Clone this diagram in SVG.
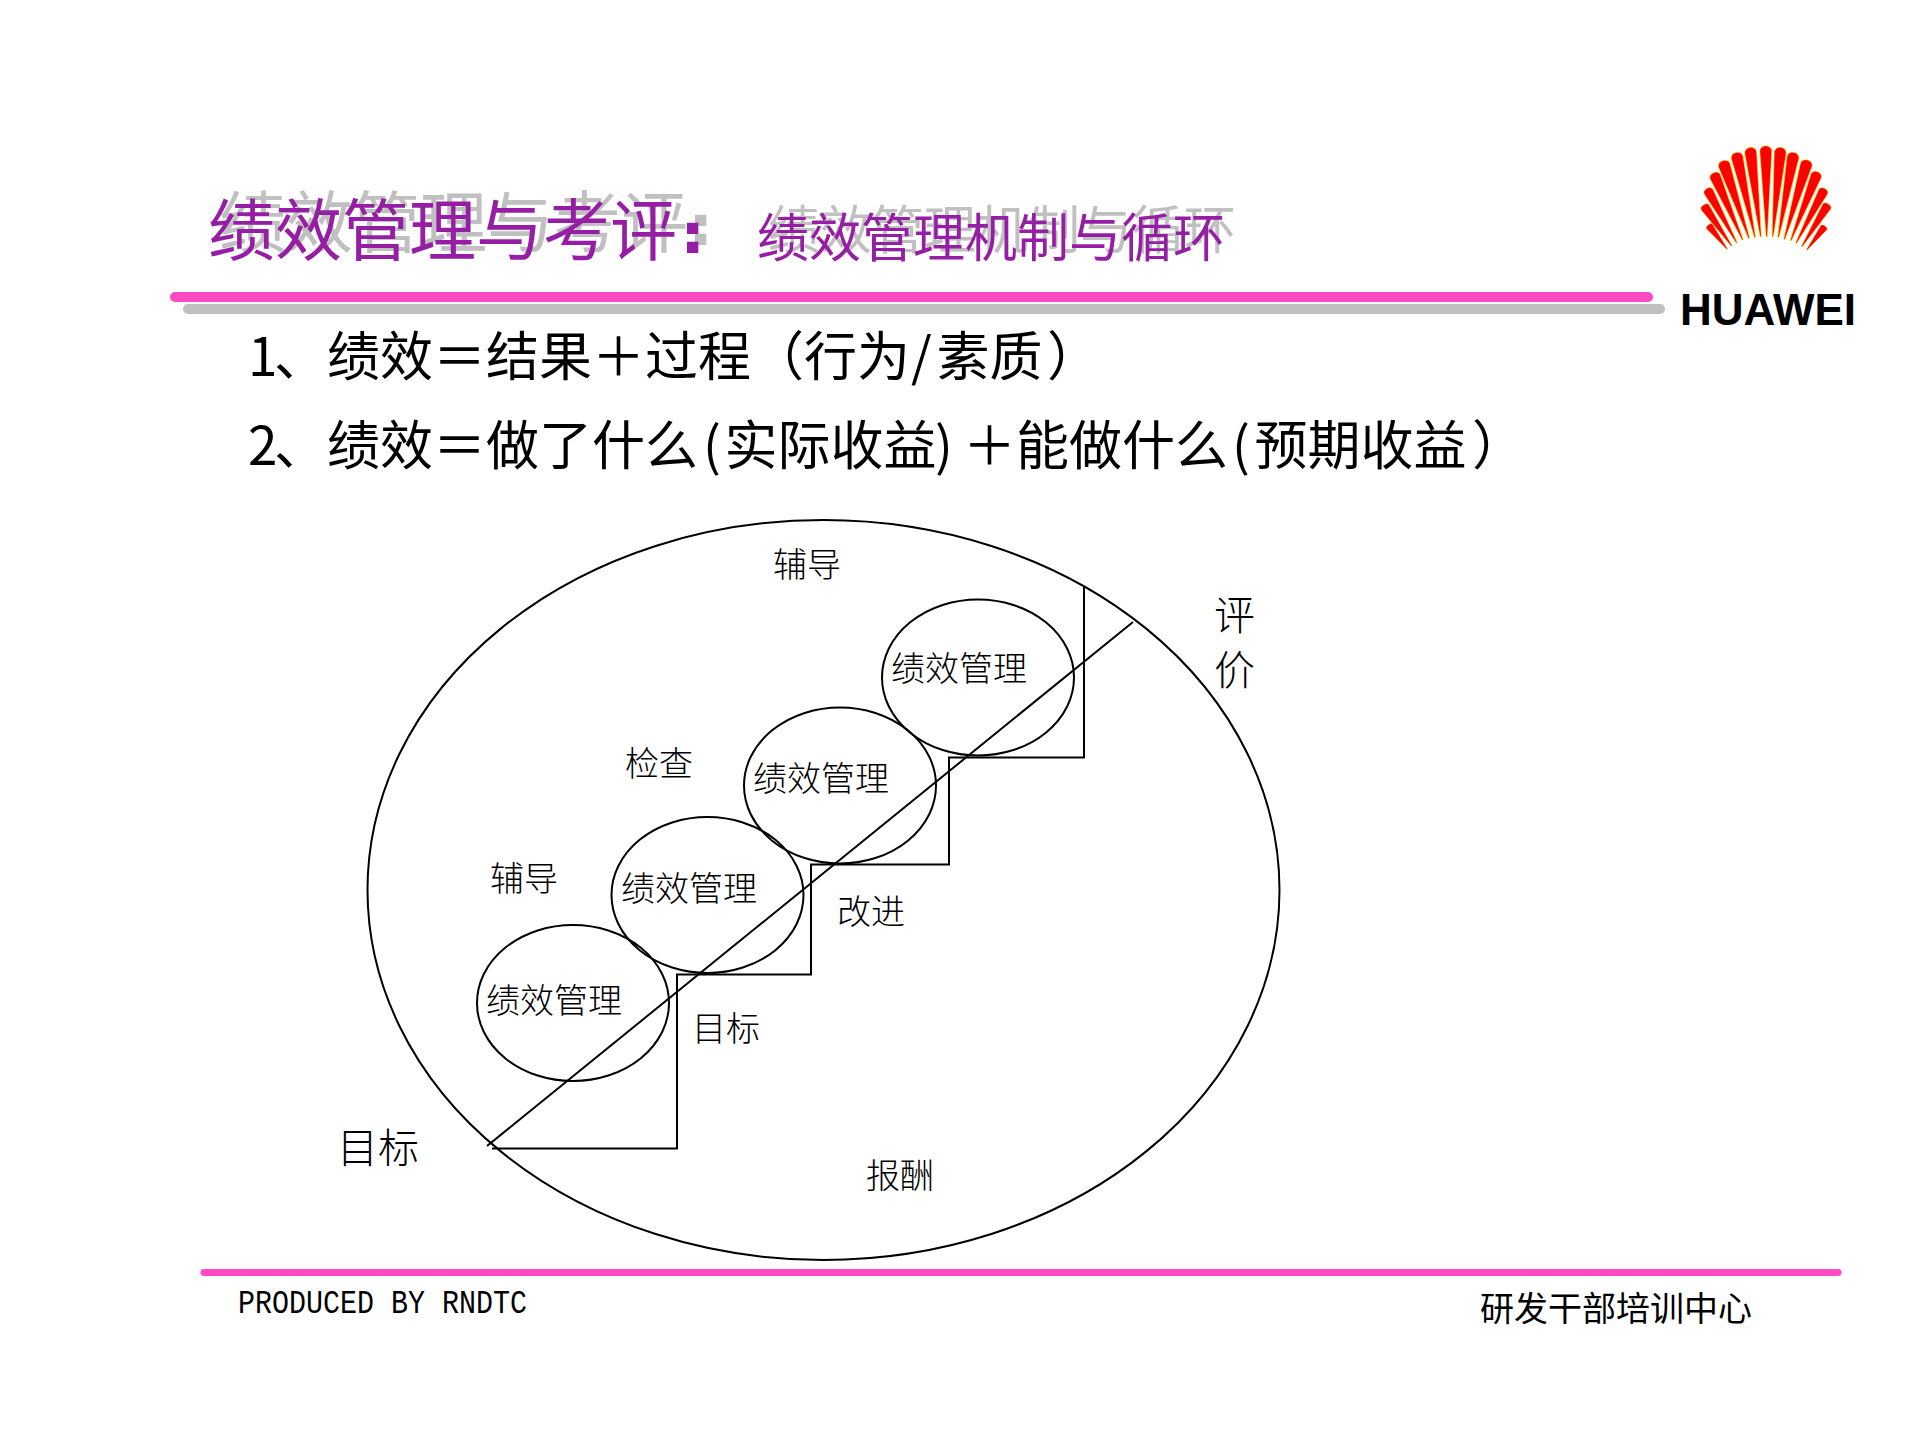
<svg xmlns="http://www.w3.org/2000/svg" xmlns:xlink="http://www.w3.org/1999/xlink" width="1920" height="1440" viewBox="0 0 1920 1440">
<style>
text{font-family:"Noto Sans CJK SC","Noto Sans",sans-serif;fill:#000}
.t1{font-size:67px}.t2{font-size:52px}
.pur{fill:#961EA5}.gry{fill:#C0C0C0}
.colon{font-family:"Liberation Sans",sans-serif;font-weight:700;font-size:52px;stroke-width:4px}
.body{font-size:53px}
.lab{font-size:34px;font-weight:300}
.big{font-size:41px;font-weight:300}
.shape{fill:none;stroke:#000;stroke-width:2}
.ray{fill:#F00;stroke:#FFE800;stroke-width:.6;vector-effect:non-scaling-stroke}
</style>
<defs><path id="ray" d="M-.6 0L-6-94A6 6 0 0 1 6-94L.6 0Z"/></defs>
<rect width="1920" height="1440" fill="#fff"/>
<g id="title">
<text class="t1 gry" x="219" y="247">绩效管理与考评</text>
<text class="colon gry" stroke="#C0C0C0" x="692" y="243">:</text>
<text class="t2 gry" x="768" y="249">绩效管理机制与循环</text>
<text class="t1 pur" x="208" y="255">绩效管理与考评</text>
<text class="colon pur" stroke="#961EA5" x="684" y="251">:</text>
<text class="t2 pur" x="757" y="257">绩效管理机制与循环</text>
</g>
<g id="rules" fill="none" stroke-linecap="round">
<path d="M188 309H1660" stroke="#C0C0C0" stroke-width="10"/>
<path d="M175 297H1648" stroke="#FF4AC4" stroke-width="10"/>
<path d="M204 1272.500H1838" stroke="#FF4AC4" stroke-width="7"/>
</g>
<g id="logo">
<use href="#ray" class="ray" transform="translate(1727.300 249.300) rotate(-38) scale(.62 .309)"/>
<use href="#ray" class="ray" transform="translate(1731.700 246) rotate(-34.600) scale(.78 .498)"/>
<use href="#ray" class="ray" transform="translate(1736.700 242.700) rotate(-28.900) scale(.83 .62)"/>
<use href="#ray" class="ray" transform="translate(1742.700 240) rotate(-23.500) scale(.92 .734)"/>
<use href="#ray" class="ray" transform="translate(1749 238.300) rotate(-18.700) scale(1 .82)"/>
<use href="#ray" class="ray" transform="translate(1755 237.300) rotate(-12.600) scale(1 .87)"/>
<use href="#ray" class="ray" transform="translate(1760.700 236.700) rotate(-6.800) scale(1 .9)"/>
<use href="#ray" class="ray" transform="translate(1766.700 236.700) rotate(-.6) scale(1 .91)"/>
<use href="#ray" class="ray" transform="translate(1772.700 236.700) rotate(5.100) scale(1 .897)"/>
<use href="#ray" class="ray" transform="translate(1778.300 237.300) rotate(10.400) scale(1 .864)"/>
<use href="#ray" class="ray" transform="translate(1784.300 239.300) rotate(16.400) scale(1 .827)"/>
<use href="#ray" class="ray" transform="translate(1790.700 240.700) rotate(21.400) scale(.92 .74)"/>
<use href="#ray" class="ray" transform="translate(1796 243.300) rotate(27.800) scale(.83 .62)"/>
<use href="#ray" class="ray" transform="translate(1801.700 246.700) rotate(32) scale(.78 .503)"/>
<use href="#ray" class="ray" transform="translate(1806.700 250) rotate(37.400) scale(.62 .302)"/>
<text x="1680" y="325" textLength="176" lengthAdjust="spacingAndGlyphs" style="font-family:'Liberation Sans',sans-serif;font-weight:700;font-size:45px">HUAWEI</text>
</g>
<g id="body">
<text class="body" y="376" x="248 274 327 380 433 486 539 592 645 698 751 804 857 911 936.500 989.500 1047">1、绩效＝结果＋过程（行为/素质）</text>
<text class="body" y="465" x="248 274 327 380 433 486 539 592 645 703 724.500 777.500 830.500 883.500 935 963 1016 1069 1122 1175 1232 1254.500 1307.500 1360.500 1413.500 1472">2、绩效＝做了什么(实际收益)＋能做什么(预期收益）</text>
</g>
<g id="cycle"><ellipse class="shape" cx="823.500" cy="890" rx="456" ry="370"/></g>
<g id="node-1"><ellipse class="shape" cx="573" cy="1003" rx="96" ry="78"/><text class="lab" x="486" y="1013">绩效管理</text></g>
<g id="node-2"><ellipse class="shape" cx="707.500" cy="895" rx="96" ry="78"/><text class="lab" x="621" y="901">绩效管理</text></g>
<g id="node-3"><ellipse class="shape" cx="840" cy="785.500" rx="96" ry="78"/><text class="lab" x="753" y="791">绩效管理</text></g>
<g id="node-4"><ellipse class="shape" cx="978" cy="677.500" rx="96" ry="78"/><text class="lab" x="891" y="681">绩效管理</text></g>
<g id="connectors">
<path class="shape" d="M492 1148.500H677V974.500H811V864.500H949V757.500H1084V587"/>
<path class="shape" d="M487 1146L1133 622"/>
</g>
<g id="labels">
<text class="lab" x="773" y="577">辅导</text>
<text class="lab" x="625" y="776">检查</text>
<text class="lab" x="490" y="891">辅导</text>
<text class="lab" x="837" y="924">改进</text>
<text class="lab" x="692" y="1041">目标</text>
<text class="lab" x="866" y="1188">报酬</text>
<text class="big" x="337" y="1163">目标</text>
<text class="big" x="1214" y="630">评</text>
<text class="big" x="1214" y="685">价</text>
</g>
<g id="footer">
<text x="238" y="1313" textLength="289" lengthAdjust="spacingAndGlyphs" style="font-family:'Liberation Mono',monospace;font-size:34px">PRODUCED BY RNDTC</text>
<text x="1480" y="1321" style="font-size:34px">研发干部培训中心</text>
</g>
</svg>
